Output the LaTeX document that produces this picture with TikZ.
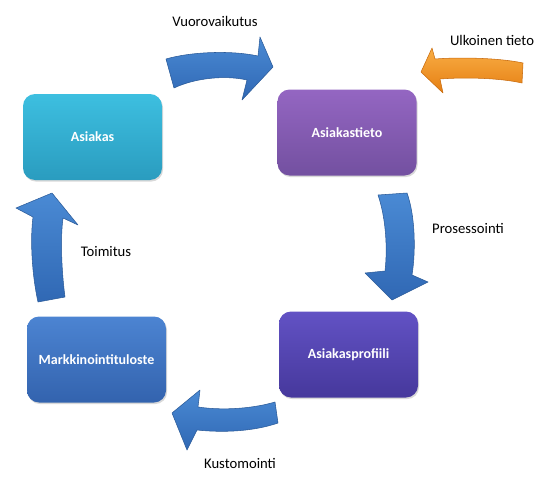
\documentclass[tikz,border=0pt]{standalone}
\usepackage{fontspec}
\setmainfont{Carlito}
\usetikzlibrary{shadows}
\definecolor{cyanT}{HTML}{3DBFE0}
\definecolor{cyanB}{HTML}{2A9CBF}
\definecolor{purT}{HTML}{9466C2}
\definecolor{purB}{HTML}{7350A0}
\definecolor{indT}{HTML}{6252C4}
\definecolor{indB}{HTML}{46389C}
\definecolor{bluT}{HTML}{4C84D2}
\definecolor{bluB}{HTML}{3363AE}
\definecolor{arrT}{HTML}{4A8AD4}
\definecolor{arrB}{HTML}{3068B4}
\definecolor{arrE}{HTML}{2A5A98}
\definecolor{oraT}{HTML}{F9AE45}
\definecolor{oraB}{HTML}{E57E12}
\definecolor{oraE}{HTML}{C86A0C}
\tikzset{
  box/.style={rounded corners=9pt, minimum width=104.25pt, minimum height=64.5pt,
    text=white, font=\bfseries\fontsize{10.5}{12}\selectfont, inner sep=0pt,
    drop shadow={shadow xshift=0.8pt, shadow yshift=-1.2pt, opacity=0.3}},
  blockarrow/.style={top color=arrT, bottom color=arrB, draw=arrE, line width=0.4pt, line join=round},
  orangearrow/.style={top color=oraT, bottom color=oraB, draw=oraE, line width=0.4pt, line join=round},
  lbl/.style={font=\fontsize{11}{13}\selectfont, text=black, inner sep=0pt}
}
\begin{document}
\begin{tikzpicture}[x=0.75pt,y=-0.75pt]
\useasboundingbox (0,0) rectangle (542,485);
% boxes
\node[box, top color=cyanT, bottom color=cyanB] (asiakas) at (92.5,137) {Asiakas};
\node[box, top color=purT, bottom color=purB] (tieto) at (347,132.5) {Asiakastieto};
\node[box, top color=indT, bottom color=indB] (profiili) at (348.5,354.5) {Asiakasprofiili};
\node[box, top color=bluT, bottom color=bluB] (tuloste) at (96.5,359.5) {Markkinointituloste};
% block arrows
\path[blockarrow] (166,59) .. controls (190,52) and (230,50) .. (258,56) -- (260,37) -- (273,67) -- (242,100) -- (247,80) .. controls (225,75) and (195,78) .. (174,88) -- cycle;
\path[orangearrow] (421,72) -- (432,48) -- (435,59) .. controls (460,57) and (500,58) .. (523,63) -- (522,83) .. controls (500,78) and (465,77) .. (440,79) -- (443,93) -- cycle;
\path[blockarrow] (378,195) -- (407,193) .. controls (415,215) and (416,250) .. (412,275) -- (428,282) -- (392,300) -- (365,273) -- (385,271) .. controls (388,245) and (385,215) .. (378,195) -- cycle;
\path[blockarrow] (172,413) -- (200,390) -- (198,407) .. controls (225,411) and (255,408) .. (275,402) -- (278,423) .. controls (255,431) and (225,433) .. (197,430) -- (187,450) -- cycle;
\path[blockarrow] (52,193) -- (78,225) -- (63,218) .. controls (60,240) and (62,275) .. (65,297) -- (38,302) .. controls (32,275) and (30,240) .. (33,217) -- (16,208) -- cycle;
% labels
\node[lbl] (l1) at (215,21) {Vuorovaikutus};
\node[lbl] (l2) at (492,40) {Ulkoinen tieto};
\node[lbl] (l3) at (468,228) {Prosessointi};
\node[lbl] (l4) at (106,252) {Toimitus};
\node[lbl] (l5) at (240,463) {Kustomointi};
\end{tikzpicture}
\end{document}
